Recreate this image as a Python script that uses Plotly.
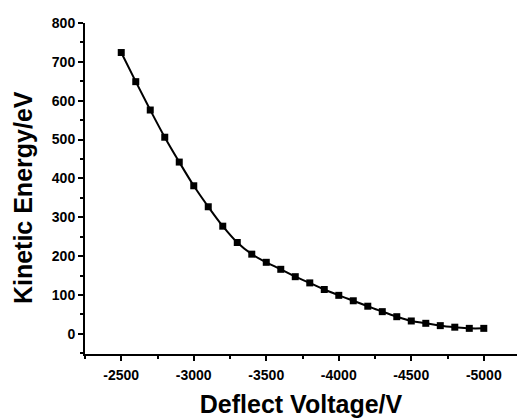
import plotly.graph_objects as go

voltage = [-2500, -2600, -2700, -2800, -2900, -3000, -3100, -3200, -3300, -3400,
           -3500, -3600, -3700, -3800, -3900, -4000, -4100, -4200, -4300, -4400,
           -4500, -4600, -4700, -4800, -4900, -5000]
energy = [724, 649, 576, 506, 442, 381, 327, 277, 235, 205,
          184, 166, 147, 131, 114, 99, 85, 71, 57, 44,
          33, 27, 21, 17, 14, 14]

x_tick_vals = [-2500, -3000, -3500, -4000, -4500, -5000]
x_tick_text = ["-2500", "-3000", "-3500", "-4000", "-4500", "-5000"]
y_tick_vals = [0, 100, 200, 300, 400, 500, 600, 700, 800]
y_tick_text = ["0", "100", "200", "300", "400", "500", "600", "700", "800"]

fig = go.Figure()
fig.add_trace(go.Scatter(
    x=voltage, y=energy, mode="lines+markers",
    line=dict(color="black", width=2, shape="spline"),
    marker=dict(symbol="square", size=7, color="black"),
    showlegend=False,
))

font_family = "Liberation Sans, Arial, sans-serif"
fig.update_layout(
    width=520, height=420,
    margin=dict(l=85, r=3, t=23, b=66),
    paper_bgcolor="white", plot_bgcolor="white",
    font=dict(family=font_family, color="black"),
    xaxis=dict(
        range=[-2250, -5229],
        tickvals=x_tick_vals, ticktext=x_tick_text,
        ticks="outside", ticklen=5, tickwidth=1.5, tickcolor="black",
        minor=dict(dtick=250, tick0=-2250, ticks="outside", ticklen=3, tickwidth=1.5, tickcolor="black"),
        showline=True, linecolor="black", linewidth=2,
        showgrid=False, zeroline=False,
        ticklabelstandoff=2,
        tickfont=dict(size=14, family=font_family, weight="bold"),
        title=dict(text="Deflect Voltage/V", font=dict(size=25, family=font_family, weight="bold"), standoff=14),
    ),
    yaxis=dict(
        range=[-52, 800],
        tickvals=y_tick_vals, ticktext=y_tick_text,
        ticks="outside", ticklen=5, tickwidth=1.5, tickcolor="black",
        minor=dict(dtick=50, tick0=0, ticks="outside", ticklen=3, tickwidth=1.5, tickcolor="black"),
        showline=True, linecolor="black", linewidth=2,
        showgrid=False, zeroline=False,
        tickfont=dict(size=14, family=font_family, weight="bold"),
    ),
    annotations=[dict(
        text="Kinetic Energy/eV", textangle=-90,
        xref="paper", yref="paper", x=-0.1435, y=0.471,
        xanchor="center", yanchor="middle", showarrow=False,
        font=dict(size=25, family=font_family, weight="bold", color="black"),
    )],
)

fig.write_html("out.html")
